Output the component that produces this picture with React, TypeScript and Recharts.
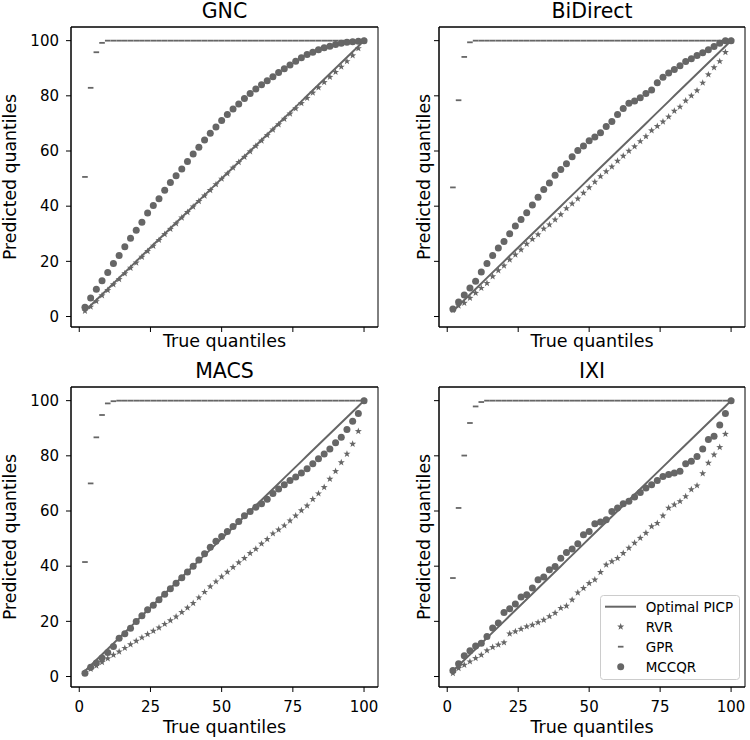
import { ScatterChart, Scatter, XAxis, YAxis, Legend, ReferenceArea } from 'recharts'

const GRAY = '#666666'

// true quantiles (x for every series)
const quantiles = [
  2, 4, 6, 8, 10, 12, 14, 16, 18, 20, 22, 24, 26, 28, 30, 32, 34, 36, 38, 40,
  42, 44, 46, 48, 50, 52, 54, 56, 58, 60, 62, 64, 66, 68, 70, 72, 74, 76, 78, 80,
  82, 84, 86, 88, 90, 92, 94, 96, 98, 100,
]

const xTicks = [0, 25, 50, 75, 100]
const yTicks = [0, 20, 40, 60, 80, 100]
const legendOrder = ['Optimal PICP', 'RVR', 'GPR', 'MCCQR']

// GNC
const gncRvr = [
  2.0, 3.5, 5.5, 7.6, 9.5, 11.6, 13.5, 15.6, 17.6, 19.5,
  21.6, 23.7, 25.6, 27.7, 29.8, 31.7, 33.7, 35.8, 37.8, 39.8,
  41.8, 43.8, 45.8, 47.9, 49.9, 51.8, 53.9, 55.9, 57.8, 59.8,
  61.8, 63.7, 65.7, 67.7, 69.6, 71.6, 73.5, 75.4, 77.3, 79.2,
  81.1, 83.0, 84.9, 86.8, 88.6, 90.5, 92.5, 94.6, 97.2, 100,
]
const gncGpr = [
  50.6, 82.9, 95.8, 99.2, 100, 100, 100, 100, 100, 100,
  100, 100, 100, 100, 100, 100, 100, 100, 100, 100,
  100, 100, 100, 100, 100, 100, 100, 100, 100, 100,
  100, 100, 100, 100, 100, 100, 100, 100, 100, 100,
  100, 100, 100, 100, 100, 100, 100, 100, 100, 100,
]
const gncMccqr = [
  3.4, 6.7, 9.9, 13, 16, 19.2, 22.1, 25.3, 28.4, 31.3,
  34.2, 37.5, 40.2, 42.7, 45.8, 48.6, 51.0, 53.5, 56.2, 58.9,
  61.4, 64, 66.4, 68.7, 71.1, 73.2, 75.2, 77, 79, 80.8,
  82.5, 84, 85.5, 86.9, 88.5, 89.8, 91.2, 92.5, 93.8, 95,
  95.8, 96.7, 97.4, 98, 98.6, 99.1, 99.4, 99.6, 99.8, 100,
]

// BiDirect
const biRvr = [
  2.4, 3.9, 4.9, 6.7, 8.5, 10.3, 12.1, 14.5, 16.7, 18.4,
  20.6, 22.4, 24.2, 26.3, 28.0, 29.7, 31.8, 33.3, 35.1, 37.0,
  39.2, 40.9, 42.7, 44.8, 46.8, 48.8, 50.8, 52.6, 54.3, 56.4,
  58.2, 60.0, 61.6, 63.5, 65.3, 67.4, 69.0, 70.6, 72.4, 74.5,
  76.0, 78.2, 80.0, 81.9, 84.7, 87.7, 90.3, 92.5, 95.8, 100,
]
const biGpr = [
  46.8, 78.4, 94.1, 99.4, 100, 100, 100, 100, 100, 100,
  100, 100, 100, 100, 100, 100, 100, 100, 100, 100,
  100, 100, 100, 100, 100, 100, 100, 100, 100, 100,
  100, 100, 100, 100, 100, 100, 100, 100, 100, 100,
  100, 100, 100, 100, 100, 100, 100, 100, 100, 100,
]
const biMccqr = [
  2.7, 5.3, 7.8, 10.3, 12.8, 16.1, 19.2, 22.1, 24.8, 27.2,
  30, 32.8, 35.2, 37.6, 40.4, 43.2, 46, 48.4, 51.2, 53.3,
  55.4, 57.9, 60.2, 61.8, 63.7, 65.1, 66.6, 68.9, 70.7, 73.2,
  75.4, 77.3, 78.1, 79.3, 80.8, 82.1, 84.7, 86.7, 88.3, 89.5,
  90.9, 92.4, 93.4, 94.6, 95.6, 96.7, 97.9, 99.1, 100, 100,
]

// MACS
const macsRvr = [
  1.5, 2.7, 3.9, 5.2, 6.5, 7.8, 9.0, 10.3, 11.6, 12.9,
  14.1, 15.3, 16.5, 17.7, 19.0, 20.3, 21.7, 23.3, 24.9, 26.6,
  28.6, 30.6, 32.6, 34.4, 36.2, 37.9, 39.6, 41.3, 42.9, 44.7,
  46.2, 48.1, 49.8, 51.8, 53.2, 54.7, 56.5, 58.3, 60.2, 61.9,
  64.3, 66.3, 68.6, 71.6, 74.4, 77.6, 80.7, 84.3, 88.9, 100,
]
const macsGpr = [
  41.5, 70, 86.7, 94.8, 99, 99.8, 100, 100, 100, 100,
  100, 100, 100, 100, 100, 100, 100, 100, 100, 100,
  100, 100, 100, 100, 100, 100, 100, 100, 100, 100,
  100, 100, 100, 100, 100, 100, 100, 100, 100, 100,
  100, 100, 100, 100, 100, 100, 100, 100, 100, 100,
]
const macsMccqr = [
  1.2, 3.4, 4.9, 6.7, 8.7, 10.9, 13.9, 15.5, 17.5, 19.9,
  22.0, 24.2, 25.8, 27.8, 29.8, 31.8, 33.8, 35.8, 37.9, 40.0,
  42.2, 44.5, 46.9, 49.0, 50.8, 52.6, 54.4, 56.2, 58.3, 59.8,
  61.4, 62.6, 64.3, 66.3, 68.0, 69.5, 71.1, 72.3, 73.8, 75.3,
  77.1, 78.9, 80.7, 82.5, 84.7, 86.7, 89.5, 92.5, 95.3, 100,
]

// IXI
const ixiRvr = [
  1.2, 3, 4.2, 5.4, 6.6, 7.8, 9.4, 10.6, 11.5, 12.3,
  15.5, 16.3, 17.2, 18.1, 18.7, 19.6, 20.5, 21.8, 23, 24.8,
  25.6, 27.8, 30.4, 32, 33.8, 35.1, 37.8, 40.5, 41.7, 42.9,
  44.7, 46.6, 48.4, 50.2, 52, 54.4, 55.6, 58.3, 61.1, 62.3,
  63.5, 65.3, 67.8, 69.2, 73.6, 77.4, 80.4, 83.1, 87.9, 100,
]
const ixiGpr = [
  35.7, 61.1, 80.1, 91.9, 97.9, 99.5, 100, 100, 100, 100,
  100, 100, 100, 100, 100, 100, 100, 100, 100, 100,
  100, 100, 100, 100, 100, 100, 100, 100, 100, 100,
  100, 100, 100, 100, 100, 100, 100, 100, 100, 100,
  100, 100, 100, 100, 100, 100, 100, 100, 100, 100,
]
const ixiMccqr = [
  2.2, 4.6, 7.5, 9.3, 11.1, 12.1, 14.5, 17.6, 19.4, 23.2,
  24.6, 26.3, 28.8, 29.6, 32.1, 35.1, 36.1, 38.7, 39.9, 42.9,
  45, 46.2, 48.1, 51.4, 52.6, 55.4, 56, 56.8, 59.8, 61.1,
  62.6, 63.5, 65.1, 66.7, 68.3, 69.5, 71.1, 72.5, 73.2, 73.8,
  74.4, 77.1, 78, 79.8, 82.5, 85.9, 87.1, 91.2, 95.3, 100,
]

const toPoints = (ys: number[]) => quantiles.map((x, i) => ({ x, y: ys[i] }))
// optimal PICP: predicted == true quantile
const optimal = quantiles.map((q) => ({ x: q, y: q }))

const X_DOMAIN = [-2.9, 104.9]
const Y_DOMAIN = [-3.8, 104.95]

const StarDot = (p: any) => {
  const { cx, cy } = p
  if (cx == null || cy == null) return <g />
  let d = ''
  for (let i = 0; i < 10; i++) {
    const r = i % 2 === 0 ? 3.7 : 1.5
    const a = -Math.PI / 2 + (i * Math.PI) / 5
    d += (i === 0 ? 'M' : 'L') + (cx + r * Math.cos(a)).toFixed(2) + ',' + (cy + r * Math.sin(a)).toFixed(2)
  }
  return <path d={d + 'Z'} fill={GRAY} />
}

const DashDot = (p: any) => {
  const { cx, cy } = p
  if (cx == null || cy == null) return <g />
  return <line x1={cx - 2.8} x2={cx + 2.8} y1={cy} y2={cy} stroke={GRAY} strokeWidth={1.8} />
}

const CircleDot = (p: any) => {
  const { cx, cy } = p
  if (cx == null || cy == null) return <g />
  return <circle cx={cx} cy={cy} r={3.5} fill={GRAY} />
}

const NoDot = () => <g />

function LegendBox(props: any) {
  const items = [...(props.payload ?? [])].sort(
    (a: any, b: any) => legendOrder.indexOf(a.value) - legendOrder.indexOf(b.value)
  )
  return (
    <svg width={140} height={85} style={{ display: 'block' }}>
      <rect x={0.5} y={0.5} width={139} height={84} rx={3} fill="#fff" fillOpacity={0.8} stroke="#cccccc" />
      {items.map((it: any, i: number) => {
        const cy = 11.7 + i * 20
        let icon = null
        if (it.value === 'Optimal PICP') icon = <line x1={5} x2={36} y1={cy} y2={cy} stroke={GRAY} strokeWidth={2} />
        else if (it.value === 'RVR') icon = <StarDot cx={20.7} cy={cy} />
        else if (it.value === 'GPR') icon = <DashDot cx={20.7} cy={cy} />
        else icon = <CircleDot cx={20.7} cy={cy} />
        return (
          <g key={it.value}>
            {icon}
            <text x={45.7} y={cy} dy="0.36em" fontSize={13.5} fill="#000">
              {it.value}
            </text>
          </g>
        )
      })}
    </svg>
  )
}

interface PanelProps {
  title: string
  rvr: number[]
  gpr: number[]
  mccqr: number[]
  col: number
  row: number
  legend?: boolean
}

function Panel({ title, rvr, gpr, mccqr, col, row, legend }: PanelProps) {
  const width = col === 0 ? 380 : 370
  const height = row === 0 ? 360 : 380
  const yAxisW = col === 0 ? 71 : 59
  const xAxisH = row === 0 ? 33 : 53
  const tickStyle = { fill: '#000', fontSize: 15 }

  return (
    <div style={{ position: 'absolute', left: col === 0 ? 0 : 380, top: row === 0 ? 0 : 360 }}>
      <ScatterChart width={width} height={height} margin={{ top: 0, right: col === 0 ? 2 : 5, bottom: 0, left: 0 }}>
        <XAxis
          type="number"
          dataKey="x"
          domain={X_DOMAIN}
          ticks={xTicks}
          allowDataOverflow
          height={xAxisH}
          stroke="#000"
          tickSize={5}
          tickMargin={9}
          tick={tickStyle}
          tickFormatter={(v: number) => (row === 0 ? '' : String(v))}
          axisLine={{ stroke: '#000' }}
          tickLine={{ stroke: '#000' }}
          label={{ value: 'True quantiles', position: 'insideBottom', offset: row === 0 ? 13.5 : 7, fontSize: 17.5, fill: '#000' }}
        />
        <XAxis
          xAxisId="top"
          orientation="top"
          type="number"
          dataKey="x"
          domain={X_DOMAIN}
          allowDataOverflow
          height={27}
          tick={false}
          tickLine={false}
          axisLine={{ stroke: '#000' }}
          label={{ value: title, position: 'insideBottom', offset: 9, fontSize: 20.5, fill: '#000' }}
        />
        <YAxis
          type="number"
          dataKey="y"
          domain={Y_DOMAIN}
          ticks={yTicks}
          allowDataOverflow
          width={yAxisW}
          stroke="#000"
          tickSize={5}
          tickMargin={7}
          tick={tickStyle}
          tickFormatter={(v: number) => (col === 0 ? String(v) : '')}
          axisLine={{ stroke: '#000' }}
          tickLine={{ stroke: '#000' }}
          label={{
            value: 'Predicted quantiles',
            angle: -90,
            position: 'insideLeft',
            offset: col === 0 ? 9.5 : 44,
            fontSize: 17.3,
            fill: '#000',
            style: { textAnchor: 'middle' },
          }}
        />
        <YAxis
          yAxisId="right"
          orientation="right"
          type="number"
          dataKey="y"
          domain={Y_DOMAIN}
          allowDataOverflow
          width={0}
          tick={false}
          tickLine={false}
          axisLine={{ stroke: '#000' }}
        />
        <ReferenceArea
          x1={X_DOMAIN[0]}
          x2={X_DOMAIN[1]}
          y1={Y_DOMAIN[0]}
          y2={Y_DOMAIN[1]}
          ifOverflow="visible"
          fill="none"
          fillOpacity={0}
          stroke="#000"
          strokeWidth={1}
        />
        <Scatter
          name="Optimal PICP"
          data={optimal}
          fill={GRAY}
          line={{ stroke: GRAY, strokeWidth: 2 }}
          shape={NoDot}
          isAnimationActive={false}
        />
        <Scatter name="RVR" data={toPoints(rvr)} fill={GRAY} shape={StarDot} isAnimationActive={false} />
        <Scatter name="GPR" data={toPoints(gpr)} fill={GRAY} shape={DashDot} isAnimationActive={false} />
        <Scatter name="MCCQR" data={toPoints(mccqr)} fill={GRAY} shape={CircleDot} isAnimationActive={false} />
        {legend && (
          <Legend
            layout="vertical"
            align="center"
            verticalAlign="middle"
            itemSorter={(item: any) => legendOrder.indexOf(item.value)}
            wrapperStyle={{ left: 220, top: 235, width: 140, height: 85 }}
            content={LegendBox}
          />
        )}
      </ScatterChart>
    </div>
  )
}

export default function App() {
  return (
    <div
      style={{
        position: 'absolute',
        left: 0,
        top: 0,
        width: 750,
        height: 740,
        background: '#fff',
        fontFamily: '"DejaVu Sans", sans-serif',
      }}
    >
      <Panel title="GNC" rvr={gncRvr} gpr={gncGpr} mccqr={gncMccqr} col={0} row={0} />
      <Panel title="BiDirect" rvr={biRvr} gpr={biGpr} mccqr={biMccqr} col={1} row={0} />
      <Panel title="MACS" rvr={macsRvr} gpr={macsGpr} mccqr={macsMccqr} col={0} row={1} />
      <Panel title="IXI" rvr={ixiRvr} gpr={ixiGpr} mccqr={ixiMccqr} col={1} row={1} legend />
    </div>
  )
}
